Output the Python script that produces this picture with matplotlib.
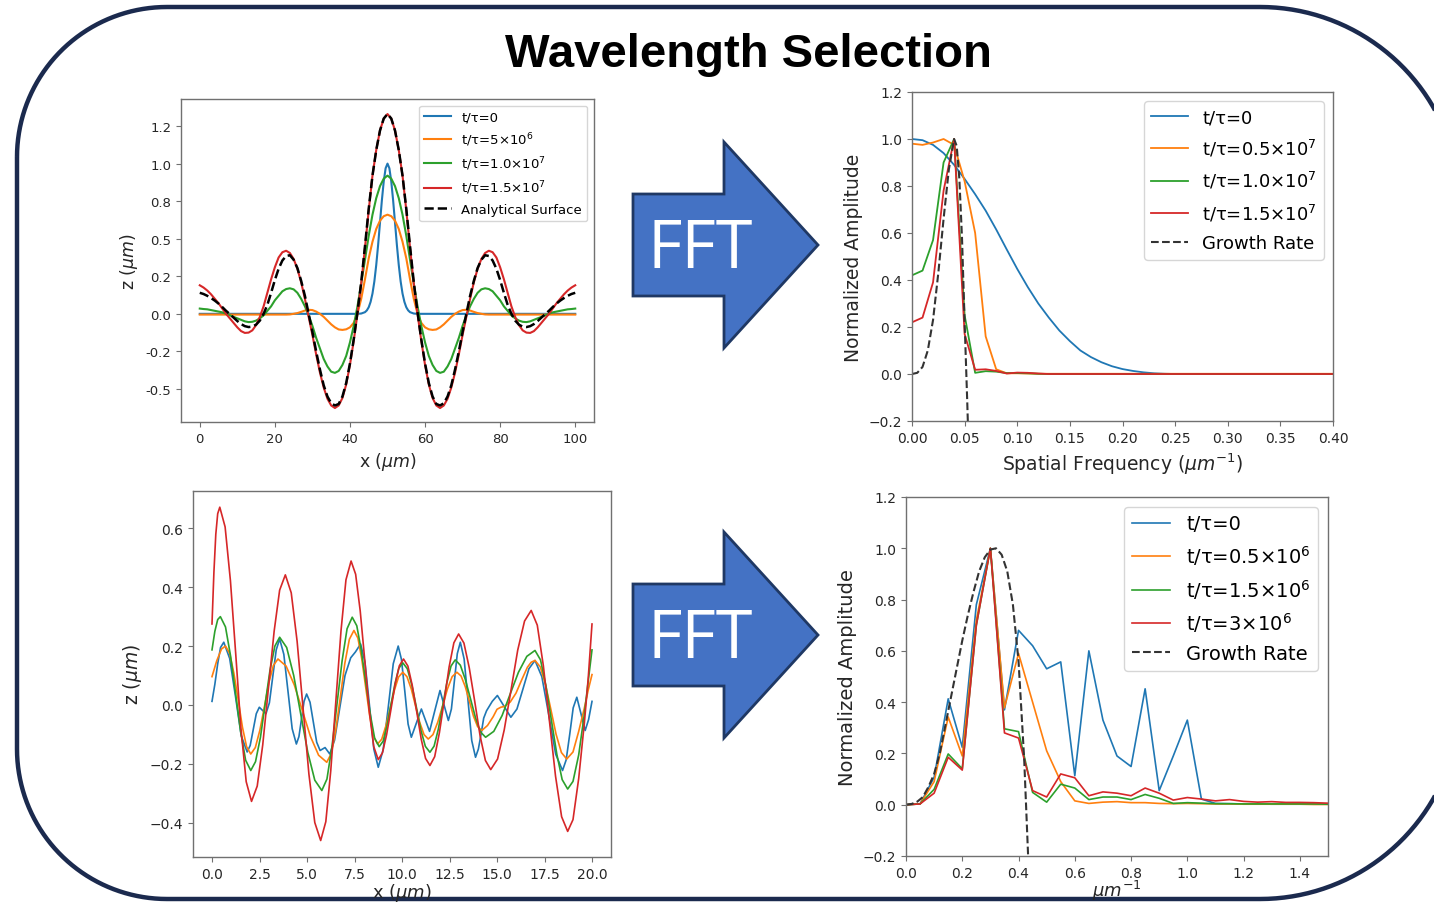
import numpy as np
import matplotlib.pyplot as plt
from matplotlib.patches import Polygon
from matplotlib.ticker import FormatStrFormatter, MultipleLocator

W, H = 1434, 903

# ---------------- surface profiles, 100 um domain ----------------
x_long = np.arange(0, 101)

z_long_red = [0.19, 0.175, 0.155, 0.13, 0.10, 0.07, 0.035, 0.0, -0.03, -0.06,
              -0.09, -0.115, -0.127, -0.125, -0.11, -0.075, -0.02, 0.05, 0.14, 0.23,
              0.31, 0.375, 0.41, 0.42, 0.405, 0.365, 0.30, 0.21, 0.10, -0.02,
              -0.14, -0.27, -0.39, -0.49, -0.565, -0.61, -0.627, -0.61, -0.56, -0.47,
              -0.34, -0.18, 0.0, 0.20, 0.44, 0.69, 0.92, 1.09, 1.22, 1.30,
              1.33,
              1.30, 1.22, 1.09, 0.92, 0.69, 0.44, 0.20, 0.0, -0.18, -0.34,
              -0.47, -0.56, -0.61, -0.627, -0.61, -0.565, -0.49, -0.39, -0.27, -0.14,
              -0.02, 0.10, 0.21, 0.30, 0.365, 0.405, 0.42, 0.41, 0.375, 0.31,
              0.23, 0.14, 0.05, -0.02, -0.075, -0.11, -0.125, -0.127, -0.115, -0.09,
              -0.06, -0.03, 0.0, 0.035, 0.07, 0.10, 0.13, 0.155, 0.175, 0.19]

z_long_analytic = [0.14, 0.132, 0.12, 0.105, 0.088, 0.068, 0.045, 0.02, -0.002, -0.025,
                   -0.048, -0.068, -0.082, -0.088, -0.085, -0.072, -0.045, 0.0, 0.06, 0.14,
                   0.225, 0.30, 0.355, 0.385, 0.39, 0.36, 0.305, 0.22, 0.12, 0.0,
                   -0.12, -0.25, -0.37, -0.475, -0.55, -0.595, -0.61, -0.60, -0.55, -0.46,
                   -0.33, -0.17, 0.01, 0.21, 0.45, 0.70, 0.92, 1.09, 1.22, 1.30,
                   1.33,
                   1.30, 1.22, 1.09, 0.92, 0.70, 0.45, 0.21, 0.01, -0.17, -0.33,
                   -0.46, -0.55, -0.60, -0.61, -0.595, -0.55, -0.475, -0.37, -0.25, -0.12,
                   0.0, 0.12, 0.22, 0.305, 0.36, 0.39, 0.385, 0.355, 0.30, 0.225,
                   0.14, 0.06, 0.0, -0.045, -0.072, -0.085, -0.088, -0.082, -0.068, -0.048,
                   -0.025, -0.002, 0.02, 0.045, 0.068, 0.088, 0.105, 0.12, 0.132, 0.14]

z_long_green = [0.035, 0.032, 0.03, 0.025, 0.02, 0.015, 0.01, 0.0, -0.01, -0.02,
                -0.03, -0.04, -0.05, -0.055, -0.053, -0.045, -0.03, -0.01, 0.02, 0.05,
                0.09, 0.12, 0.15, 0.165, 0.17, 0.163, 0.14, 0.10, 0.05, -0.01,
                -0.08, -0.16, -0.23, -0.30, -0.35, -0.385, -0.393, -0.38, -0.34, -0.28,
                -0.19, -0.08, 0.05, 0.20, 0.36, 0.52, 0.66, 0.77, 0.85, 0.90,
                0.92,
                0.90, 0.85, 0.77, 0.66, 0.52, 0.36, 0.20, 0.05, -0.08, -0.19,
                -0.28, -0.34, -0.38, -0.393, -0.385, -0.35, -0.30, -0.23, -0.16, -0.08,
                -0.01, 0.05, 0.10, 0.14, 0.163, 0.17, 0.165, 0.15, 0.12, 0.09,
                0.05, 0.02, -0.01, -0.03, -0.045, -0.053, -0.055, -0.05, -0.04, -0.03,
                -0.02, -0.01, 0.0, 0.01, 0.015, 0.02, 0.025, 0.03, 0.032, 0.035]

z_long_orange = [-0.005] * 20 + [
                 -0.005, -0.005, -0.005, -0.005, -0.004, 0.0, 0.005, 0.013, 0.022, 0.027,
                 0.025, 0.015, 0.0, -0.02, -0.045, -0.07, -0.09, -0.104, -0.107, -0.103,
                 -0.09, -0.06, 0.0, 0.10, 0.23, 0.37, 0.48, 0.565, 0.62, 0.65,
                 0.66,
                 0.65, 0.62, 0.565, 0.48, 0.37, 0.23, 0.10, 0.0, -0.06, -0.09,
                 -0.103, -0.107, -0.104, -0.09, -0.07, -0.045, -0.02, 0.0, 0.015, 0.025,
                 0.027, 0.022, 0.013, 0.005, 0.0, -0.004, -0.005, -0.005, -0.005, -0.005] + [-0.005] * 20

x_long_blue = [0, 42, 43, 44, 44.5, 45, 45.5, 46, 46.5, 47, 47.5, 48, 48.5, 49, 49.5,
               50, 50.5, 51, 51.5, 52, 52.5, 53, 53.5, 54, 54.5, 55, 55.5, 56, 57, 58, 100]
z_long_blue = [0, 0, 0.002, 0.011, 0.023, 0.044, 0.080, 0.135, 0.216, 0.325, 0.458, 0.607,
               0.755, 0.882, 0.969, 1.0, 0.969, 0.882, 0.755, 0.607, 0.458, 0.325, 0.216,
               0.135, 0.080, 0.044, 0.023, 0.011, 0.002, 0, 0]

labels_long = ["t/τ=0", "t/τ=5×10$^{6}$", "t/τ=1.0×10$^{7}$", "t/τ=1.5×10$^{7}$"]

# ---------------- spectra of the 100 um run ----------------
f_long = np.round(np.arange(0, 0.51, 0.01), 2)
a_long_blue = [1.0, 0.995, 0.975, 0.94, 0.89, 0.83, 0.765, 0.695, 0.615, 0.53,
               0.447, 0.37, 0.30, 0.24, 0.185, 0.14, 0.10, 0.072, 0.05, 0.033,
               0.021, 0.013, 0.007, 0.003, 0.001] + [0.0] * 26
a_long_orange = [0.98, 0.975, 0.985, 1.0, 0.975, 0.82, 0.60, 0.16, 0.02, 0.003,
                 0.003, 0.002] + [0.001] * 39
a_long_green = [0.42, 0.44, 0.57, 0.90, 1.0, 0.25, 0.005, 0.012, 0.01, 0.004,
                0.004, 0.003, 0.001] + [0.0] * 38
a_long_red = [0.22, 0.24, 0.39, 0.78, 1.0, 0.17, 0.018, 0.02, 0.013, 0.002,
              0.006, 0.005, 0.002] + [0.0] * 38
f_long_growth = [0, 0.005, 0.01, 0.015, 0.02, 0.025, 0.03, 0.035, 0.04, 0.0425,
                 0.045, 0.0475, 0.05, 0.0525, 0.055]
g_long = [0, 0.005, 0.03, 0.10, 0.23, 0.43, 0.66, 0.87, 1.0, 0.97,
          0.83, 0.58, 0.22, -0.12, -0.5]
labels_long_fft = ["t/τ=0", "t/τ=0.5×10$^{7}$", "t/τ=1.0×10$^{7}$", "t/τ=1.5×10$^{7}$"]

# ---------------- surface profiles, 20 um domain ----------------
x_s_red = [0, 0.1, 0.2, 0.3, 0.41, 0.69, 0.97, 1.25, 1.52, 1.80, 2.08, 2.38, 2.67, 2.97,
           3.27, 3.56, 3.86, 4.17, 4.48, 4.79, 5.10, 5.41, 5.72, 5.99, 6.25, 6.52, 6.79,
           7.05, 7.32, 7.56, 7.80, 8.04, 8.27, 8.51, 8.75, 8.97, 9.19, 9.42, 9.64, 9.86,
           10.08, 10.31, 10.54, 10.78, 11.01, 11.24, 11.47, 11.72, 11.97, 12.23, 12.48,
           12.73, 12.98, 13.26, 13.54, 13.83, 14.11, 14.39, 14.67, 15.03, 15.38, 15.74,
           16.09, 16.45, 16.8, 17.12, 17.44, 17.76, 18.08, 18.40, 18.72, 19.0, 19.3, 19.6,
           19.8, 20.0]
z_s_red = [0.275, 0.45, 0.58, 0.65, 0.672, 0.605, 0.422, 0.172, -0.078, -0.261, -0.328,
           -0.276, -0.136, 0.057, 0.250, 0.390, 0.442, 0.381, 0.216, -0.010, -0.235, -0.400,
           -0.461, -0.397, -0.224, 0.014, 0.252, 0.425, 0.489, 0.444, 0.320, 0.152, -0.017,
           -0.141, -0.186, -0.163, -0.101, -0.015, 0.071, 0.133, 0.156, 0.132, 0.066, -0.025,
           -0.116, -0.182, -0.206, -0.176, -0.094, 0.018, 0.129, 0.211, 0.241, 0.210, 0.126,
           0.011, -0.105, -0.189, -0.22, -0.184, -0.085, 0.051, 0.186, 0.285, 0.321, 0.271,
           0.133, -0.055, -0.242, -0.380, -0.43, -0.39, -0.25, -0.06, 0.09, 0.275]

x_s_green = [0, 0.15, 0.3, 0.44, 0.71, 0.97, 1.24, 1.51, 1.77, 2.04, 2.29, 2.55, 2.80, 3.05,
             3.31, 3.56, 3.93, 4.30, 4.67, 5.04, 5.41, 5.78, 6.05, 6.31, 6.58, 6.85, 7.11,
             7.38, 7.62, 7.85, 8.09, 8.33, 8.56, 8.8, 9.01, 9.21, 9.42, 9.63, 9.83, 10.04,
             10.28, 10.52, 10.76, 10.99, 11.23, 11.47, 11.69, 11.91, 12.14, 12.36, 12.58,
             12.8, 13.07, 13.33, 13.6, 13.87, 14.13, 14.4, 14.83, 15.27, 15.7, 16.13, 16.57,
             17.0, 17.29, 17.57, 17.86, 18.15, 18.43, 18.72, 19.0, 19.3, 19.6, 19.8, 20.0]
z_s_green = [0.187, 0.25, 0.29, 0.30, 0.265, 0.169, 0.039, -0.092, -0.188, -0.223, -0.193,
             -0.110, 0.004, 0.117, 0.200, 0.23, 0.195, 0.100, -0.031, -0.161, -0.256, -0.291,
             -0.252, -0.144, 0.004, 0.151, 0.259, 0.298, 0.269, 0.188, 0.078, -0.032, -0.113,
             -0.142, -0.123, -0.071, 0.001, 0.072, 0.124, 0.143, 0.123, 0.067, -0.009, -0.085,
             -0.141, -0.161, -0.140, -0.083, -0.004, 0.075, 0.132, 0.153, 0.135, 0.087, 0.022,
             -0.044, -0.092, -0.11, -0.090, -0.036, 0.038, 0.111, 0.165, 0.185, 0.153, 0.067,
             -0.051, -0.168, -0.254, -0.286, -0.26, -0.17, -0.03, 0.08, 0.187]

x_s_orange = [0, 0.25, 0.5, 0.71, 0.93, 1.15, 1.38, 1.6, 1.82, 2.04, 2.28, 2.52, 2.76, 2.99,
              3.23, 3.47, 3.90, 4.33, 4.76, 5.18, 5.61, 6.04, 6.28, 6.52, 6.76, 6.99, 7.23,
              7.47, 7.68, 7.88, 8.09, 8.30, 8.50, 8.71, 8.93, 9.15, 9.38, 9.60, 9.82, 10.04,
              10.26, 10.49, 10.71, 10.93, 11.16, 11.38, 11.63, 11.88, 12.14, 12.39, 12.64,
              12.89, 13.11, 13.33, 13.55, 13.76, 13.98, 14.2, 14.5, 14.8, 15.0, 15.2, 15.4,
              15.7, 16.0, 16.3, 16.6, 16.8, 17.0, 17.28, 17.56, 17.84, 18.11, 18.39, 18.67,
              19.0, 19.3, 19.6, 19.8, 20.0]
z_s_orange = [0.096, 0.15, 0.19, 0.20, 0.175, 0.108, 0.017, -0.075, -0.142, -0.167, -0.145,
              -0.086, -0.006, 0.075, 0.134, 0.156, 0.132, 0.068, -0.020, -0.107, -0.171, -0.195,
              -0.165, -0.083, 0.029, 0.141, 0.223, 0.253, 0.227, 0.157, 0.06, -0.037, -0.107,
              -0.133, -0.117, -0.072, -0.011, 0.05, 0.095, 0.111, 0.096, 0.054, -0.003, -0.059,
              -0.101, -0.116, -0.101, -0.059, -0.003, 0.054, 0.096, 0.111, 0.098, 0.062, 0.012,
              -0.038, -0.074, -0.087, -0.07, -0.04, -0.015, -0.008, -0.005, 0.01, 0.04, 0.085,
              0.128, 0.145, 0.151, 0.129, 0.067, -0.017, -0.100, -0.162, -0.184, -0.16, -0.09,
              -0.01, 0.05, 0.103]

x_s_blue = [0, 0.15, 0.3, 0.45, 0.62, 0.93, 1.24, 1.54, 1.85, 2.01, 2.17, 2.33, 2.49, 2.665,
            2.84, 3.02, 3.2, 3.38, 3.56, 3.78, 4.0, 4.22, 4.44, 4.575, 4.71, 4.845, 4.98, 5.16,
            5.335, 5.51, 5.69, 5.95, 6.2, 6.45, 6.7, 7.0, 7.3, 7.55, 7.82, 8.05, 8.29, 8.52,
            8.75, 9.01, 9.28, 9.54, 9.8, 9.97, 10.15, 10.32, 10.49, 10.755, 11.02, 11.235,
            11.45, 11.725, 12.0, 12.22, 12.44, 12.6, 12.755, 12.91, 13.07, 13.27, 13.47, 13.67,
            13.87, 14.02, 14.16, 14.3, 14.45, 14.75, 15.02, 15.375, 15.73, 16.05, 16.37, 16.68,
            17.0, 17.36, 17.73, 18.09, 18.45, 18.64, 18.83, 19.01, 19.2, 19.42, 19.64, 19.82, 20.0]
z_s_blue = [0.012, 0.07, 0.14, 0.195, 0.213, 0.158, 0.027, -0.105, -0.16, -0.138, -0.084,
            -0.030, -0.008, -0.019, -0.03, 0.007, 0.097, 0.187, 0.224, 0.172, 0.046, -0.081,
            -0.133, -0.108, -0.048, 0.012, 0.037, 0.009, -0.059, -0.127, -0.155, -0.145, -0.167,
            -0.12, -0.02, 0.10, 0.16, 0.18, 0.207, 0.146, -0.003, -0.151, -0.212, -0.152, -0.006,
            0.140, 0.20, 0.155, 0.045, -0.065, -0.11, -0.062, -0.014, -0.052, -0.09, -0.02, 0.049,
            -0.002, -0.053, -0.014, 0.08, 0.174, 0.213, 0.156, 0.018, -0.121, -0.178, -0.15,
            -0.10, -0.045, -0.02, 0.012, 0.032, -0.005, -0.042, -0.014, 0.055, 0.123, 0.151,
            0.096, -0.036, -0.168, -0.223, -0.187, -0.099, -0.010, 0.026, -0.03, -0.087, -0.05,
            0.012]
labels_short = ["t/τ=0", "t/τ=0.5×10$^{6}$", "t/τ=1.5×10$^{6}$", "t/τ=3×10$^{6}$"]

# ---------------- spectra of the 20 um run ----------------
f_short = np.round(np.arange(0, 1.51, 0.05), 2)
a_short_blue = [0.0, 0.003, 0.107, 0.413, 0.224, 0.78, 1.0, 0.37, 0.68, 0.62,
                0.53, 0.557, 0.113, 0.60, 0.33, 0.19, 0.149, 0.452, 0.055, 0.19,
                0.33, 0.022, 0.005, 0.004, 0.003, 0.003, 0.002, 0.002, 0.002, 0.002, 0.002]
a_short_orange = [0.0, 0.003, 0.09, 0.342, 0.19, 0.72, 1.0, 0.378, 0.59, 0.40,
                  0.21, 0.09, 0.015, 0.005, 0.01, 0.012, 0.008, 0.008, 0.005, 0.004,
                  0.005, 0.004, 0.003, 0.003, 0.002, 0.002, 0.002, 0.002, 0.002, 0.001, 0.001]
a_short_green = [0.0, 0.003, 0.06, 0.198, 0.14, 0.70, 1.0, 0.296, 0.285, 0.048,
                 0.01, 0.08, 0.065, 0.02, 0.03, 0.03, 0.02, 0.04, 0.025, 0.005,
                 0.008, 0.006, 0.004, 0.004, 0.003, 0.003, 0.003, 0.003, 0.003, 0.003, 0.002]
a_short_red = [0.0, 0.003, 0.045, 0.185, 0.135, 0.70, 1.0, 0.28, 0.26, 0.055,
               0.03, 0.12, 0.105, 0.035, 0.05, 0.045, 0.035, 0.065, 0.045, 0.018,
               0.028, 0.022, 0.015, 0.02, 0.013, 0.01, 0.012, 0.009, 0.009, 0.008, 0.006]
f_short_growth = [0, 0.02, 0.04, 0.06, 0.08, 0.10, 0.12, 0.14, 0.16, 0.18, 0.20, 0.22,
                  0.24, 0.26, 0.28, 0.30, 0.32, 0.34, 0.36, 0.38, 0.40, 0.42, 0.44]
g_short = [0.0, 0.003, 0.012, 0.03, 0.07, 0.12, 0.2, 0.31, 0.42, 0.53, 0.64, 0.74,
           0.83, 0.91, 0.965, 0.995, 1.0, 0.975, 0.91, 0.78, 0.56, 0.18, -0.36]

colors = ["#1f77b4", "#ff7f0e", "#2ca02c", "#d62728"]
navy = "#1b2a4e"
spine_gray = "#707070"
text_gray = "#262626"


def style_axes(ax, tick_size):
    for s in ax.spines.values():
        s.set_color(spine_gray)
        s.set_linewidth(1.0)
    ax.tick_params(colors=spine_gray, labelcolor=text_gray, labelsize=tick_size)


def px_axes(x0, y0, x1, y1):
    return fig.add_axes([x0 / W, 1 - y1 / H, (x1 - x0) / W, (y1 - y0) / H])


def frame_outline(x0, y0, x1, y1, r_left, r_right):
    # rounded slide border, left corners tighter than the right ones
    t = np.linspace(0, np.pi / 2, 40)
    xs = np.concatenate([x0 + r_left - r_left * np.cos(t),
                         x1 - r_right + r_right * np.sin(t),
                         x1 - r_right + r_right * np.cos(t),
                         x0 + r_left - r_left * np.sin(t)])
    ys = np.concatenate([y0 + r_left - r_left * np.sin(t),
                         y0 + r_right - r_right * np.cos(t),
                         y1 - r_right + r_right * np.sin(t),
                         y1 - r_left + r_left * np.cos(t)])
    return np.column_stack([xs, ys])


fig = plt.figure(figsize=(W / 100, H / 100), dpi=100)

# background layer: frame, title, arrows
bg = fig.add_axes([0, 0, 1, 1], zorder=0)
bg.set_xlim(0, W)
bg.set_ylim(H, 0)
bg.axis("off")
bg.add_patch(Polygon(frame_outline(17, 8, 1460, 900, 150, 200), closed=True, fill=False,
                     ec=navy, lw=3.2, joinstyle="round", clip_on=False))
bg.text(748, 67, "Wavelength Selection", ha="center", va="baseline",
        fontsize=34, fontweight="bold", family=["Liberation Sans", "DejaVu Sans"], color="black")


def fft_arrow(yc):
    pts = [(633, yc - 51), (724, yc - 51), (724, yc - 103), (818, yc),
           (724, yc + 103), (724, yc + 51), (633, yc + 51)]
    bg.add_patch(Polygon(pts, closed=True, fc="#4472c4", ec="#1f3864", lw=2.0, joinstyle="miter"))
    bg.text(700, yc + 22, "FFT", ha="center", va="baseline", color="white", fontsize=48,
            family=["Liberation Sans Narrow", "Open Sans", "DejaVu Sans"])


fft_arrow(246)
fft_arrow(636)

# ---- top left ----
ax1 = px_axes(181, 100, 594, 423)
ax1.plot(x_long_blue, z_long_blue, color=colors[0], lw=1.5, label=labels_long[0])
ax1.plot(x_long, z_long_orange, color=colors[1], lw=1.5, label=labels_long[1])
ax1.plot(x_long, z_long_green, color=colors[2], lw=1.5, label=labels_long[2])
ax1.plot(x_long, z_long_red, color=colors[3], lw=1.5, label=labels_long[3])
ax1.plot(x_long, z_long_analytic, color="black", lw=1.8, ls="--", label="Analytical Surface")
ax1.set_xlim(-5, 105)
ax1.set_ylim(-0.72, 1.43)
ax1.yaxis.set_major_locator(MultipleLocator(0.25))
ax1.yaxis.set_major_formatter(FormatStrFormatter("%.1f"))
ax1.set_xticks([0, 20, 40, 60, 80, 100])
ax1.set_xlabel(r"x ($\mu m$)", fontsize=12.5, color=text_gray)
ax1.set_ylabel(r"z ($\mu m$)", fontsize=12.5, color=text_gray)
style_axes(ax1, 9.5)
ax1.legend(loc="upper right", fontsize=9.5)

# ---- top right ----
ax2 = px_axes(912, 93, 1333, 422)
ax2.plot(f_long, a_long_blue, color=colors[0], lw=1.3, label=labels_long_fft[0])
ax2.plot(f_long, a_long_orange, color=colors[1], lw=1.3, label=labels_long_fft[1])
ax2.plot(f_long, a_long_green, color=colors[2], lw=1.3, label=labels_long_fft[2])
ax2.plot(f_long, a_long_red, color=colors[3], lw=1.3, label=labels_long_fft[3])
ax2.plot(f_long_growth, g_long, color="#333333", lw=1.5, ls="--", label="Growth Rate")
ax2.set_xlim(0, 0.4)
ax2.set_ylim(-0.2, 1.2)
ax2.xaxis.set_major_locator(MultipleLocator(0.05))
ax2.xaxis.set_major_formatter(FormatStrFormatter("%.2f"))
ax2.set_xlabel(r"Spatial Frequency ($\mu m^{-1}$)", fontsize=13.5, color=text_gray)
ax2.set_ylabel("Normalized Amplitude", fontsize=13.5, color=text_gray)
style_axes(ax2, 10)
ax2.legend(loc="upper right", fontsize=13, labelspacing=0.62)

# ---- bottom left ----
ax3 = px_axes(193, 492, 611, 858)
ax3.plot(x_s_blue, z_s_blue, color=colors[0], lw=1.2)
ax3.plot(x_s_orange, z_s_orange, color=colors[1], lw=1.2)
ax3.plot(x_s_green, z_s_green, color=colors[2], lw=1.2)
ax3.plot(x_s_red, z_s_red, color=colors[3], lw=1.2)
ax3.set_xlim(-1, 21)
ax3.set_ylim(-0.517, 0.727)
ax3.set_xlabel(r"x ($\mu m$)", fontsize=13, color=text_gray, labelpad=0)
ax3.set_ylabel(r"z ($\mu m$)", fontsize=13.5, color=text_gray)
style_axes(ax3, 10)

# ---- bottom right ----
ax4 = px_axes(906, 498, 1328, 857)
ax4.plot(f_short, a_short_blue, color=colors[0], lw=1.2, label=labels_short[0])
ax4.plot(f_short, a_short_orange, color=colors[1], lw=1.2, label=labels_short[1])
ax4.plot(f_short, a_short_green, color=colors[2], lw=1.2, label=labels_short[2])
ax4.plot(f_short, a_short_red, color=colors[3], lw=1.2, label=labels_short[3])
ax4.plot(f_short_growth, g_short, color="#333333", lw=1.5, ls="--", label="Growth Rate")
ax4.set_xlim(0, 1.5)
ax4.set_ylim(-0.2, 1.2)
ax4.xaxis.set_major_locator(MultipleLocator(0.2))
ax4.set_xlabel(r"$\mu m^{-1}$", fontsize=13, color=text_gray, labelpad=-1)
ax4.set_ylabel("Normalized Amplitude", fontsize=14, color=text_gray)
style_axes(ax4, 10)
ax4.legend(loc="upper right", fontsize=14)

fig.savefig("out.png", dpi=100)
